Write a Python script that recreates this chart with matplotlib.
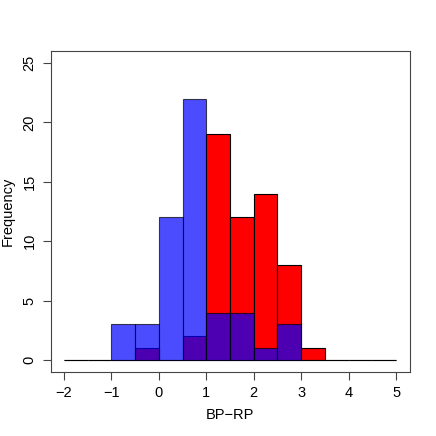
import numpy as np
import matplotlib
matplotlib.use("Agg")
import matplotlib.pyplot as plt

plt.rcParams['font.family'] = ['Liberation Sans', 'DejaVu Sans']

# bins of width 0.5 from -2 to 5
bin_edges = np.arange(-2, 5.01, 0.5)
red_counts = [0, 0, 0, 1, 0, 2, 19, 12, 14, 8, 1, 0, 0, 0]
blue_counts = [0, 0, 3, 3, 12, 22, 4, 4, 1, 3, 0, 0, 0, 0]

fig = plt.figure(figsize=(4.36, 4.36), dpi=100)
ax = fig.add_axes([50.5/436, 64/436, 359/436, 321/436])

w = np.diff(bin_edges)
ax.bar(bin_edges[:-1], red_counts, width=w, align='edge',
       color='red', edgecolor='black', linewidth=0.8)
ax.bar(bin_edges[:-1], blue_counts, width=w, align='edge',
       color='blue', edgecolor='black', linewidth=0.8, alpha=0.7)

ax.set_xlim(-2.28, 5.28)
ax.set_ylim(-1, 26)
ax.set_xticks(range(-2, 6))
ax.set_yticks(range(0, 26, 5))
ax.set_xticklabels([str(v).replace('-', '\u2212') for v in range(-2, 6)])
for lab in ax.get_yticklabels():
    lab.set_rotation(90)
    lab.set_va('center')
ax.tick_params(direction='out', length=6, width=0.8, labelsize=10.5, pad=4,
               color='#444444')
for s in ax.spines.values():
    s.set_linewidth(0.8)
    s.set_color('#444444')

ax.set_xlabel('BP\u2212RP', fontsize=10.5, labelpad=6)
ax.set_ylabel('Frequency', fontsize=10.5, labelpad=6)

fig.savefig('out.png', dpi=100)
